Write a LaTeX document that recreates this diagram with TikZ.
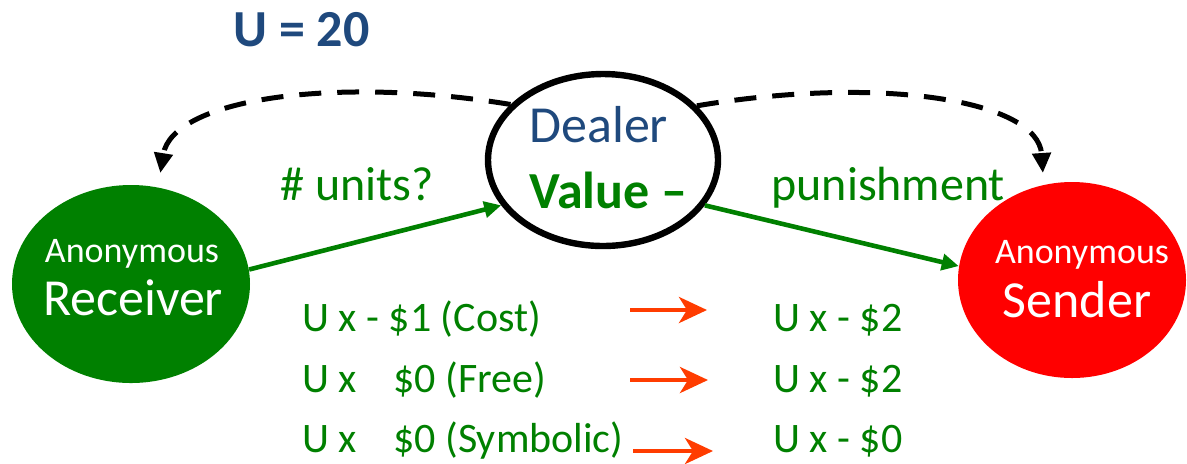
\documentclass[tikz,border=0pt]{standalone}
\usepackage{fontspec}
\setmainfont{Carlito}
\usetikzlibrary{shapes.geometric,arrows.meta}
\definecolor{dgreen}{RGB}{0,128,0}
\definecolor{dblue}{RGB}{31,73,125}
\definecolor{sred}{RGB}{255,0,0}
\definecolor{ored}{RGB}{255,60,0}
\begin{document}
\begin{tikzpicture}[x=0.5pt,y=-0.5pt,
  txt/.style={inner sep=0pt,anchor=base west},
  ctxt/.style={inner sep=0pt,anchor=base},
  party/.style={ellipse,inner sep=0pt,draw=none},
  greenarrow/.style={draw=dgreen,line width=2.3pt,-{Triangle[length=8.5pt,width=8pt]}},
  dasharrow/.style={draw=black,line width=2.5pt,dash pattern=on 11pt off 8pt,-{Triangle[length=10pt,width=9pt]}},
  redarrow/.style={draw=ored,line width=2.2pt,-{Stealth[length=14pt,width=13pt,inset=4pt]}},
  rowtext/.style={txt,text=dgreen,font=\fontsize{21pt}{25pt}\selectfont}]
\useasboundingbox (0,0) rectangle (1187,463);

% parties
\node[party,fill=dgreen,minimum width=119pt,minimum height=99pt] (recv) at (131,284) {};
\node[party,fill=sred,minimum width=114pt,minimum height=98pt] (send) at (1072,280) {};
\node[ellipse,draw=black,line width=3.2pt,fill=white,inner sep=0pt,minimum width=115pt,minimum height=86pt] (dealer) at (603,160) {};

% party texts
\node[ctxt,text=white,font=\fontsize{18pt}{22pt}\selectfont] (recvA) at (132,262) {Anonymous};
\node[ctxt,text=white,font=\fontsize{26pt}{30pt}\selectfont] (recvB) at (133,315) {Receiver};
\node[ctxt,text=white,font=\fontsize{18pt}{22pt}\selectfont] (sendA) at (1082,263) {Anonymous};
\node[ctxt,text=white,font=\fontsize{26pt}{30pt}\selectfont] (sendB) at (1077,317) {Sender};
\node[txt,text=dblue,font=\fontsize{26pt}{30pt}\selectfont] (dealerA) at (529,142) {Dealer};
\node[txt,text=dgreen,font=\fontsize{26pt}{30pt}\selectfont\bfseries] (dealerB) at (529,208) {Value –};

% title
\node[txt,text=dblue,font=\fontsize{26pt}{30pt}\selectfont\bfseries] (utitle) at (233,46) {U = 20};

% labels
\node[txt,text=dgreen,font=\fontsize{24pt}{28pt}\selectfont] (units) at (280,200) {\# units?};
\node[txt,text=dgreen,font=\fontsize{24pt}{28pt}\selectfont] (punish) at (771,200) {punishment};

% green arrows
\draw[greenarrow] (recv.7.8) -- (dealer.204.7);
\draw[greenarrow] (dealer.-24) -- (send.173.5);

% dashed arrows
\draw[dasharrow,shorten >=1pt] (dealer.149.7) .. controls (330,75) and (172,100) .. (160,175);
\draw[dasharrow,shorten >=1pt] (dealer.30) .. controls (880,75) and (1038,100) .. (1043,175);

% rows
\node[rowtext] (r1a) at (302,331) {U x - \$1 (Cost)};
\node[rowtext] (r2a) at (302,392) {U x};
\node[rowtext] (r2b) at (393,392) {\$0 (Free)};
\node[rowtext] (r3a) at (302,452) {U x};
\node[rowtext] (r3b) at (393,452) {\$0 (Symbolic)};
\node[rowtext] (r1c) at (773,331) {U x - \$2};
\node[rowtext] (r2c) at (773,392) {U x - \$2};
\node[rowtext] (r3c) at (773,452) {U x - \$0};

% red arrows
\coordinate (ra1s) at (630,310); \coordinate (ra1e) at (707,310);
\coordinate (ra2s) at (630,380); \coordinate (ra2e) at (708,380);
\coordinate (ra3s) at (633,451); \coordinate (ra3e) at (713,451);
\draw[redarrow] (ra1s) -- (ra1e);
\draw[redarrow] (ra2s) -- (ra2e);
\draw[redarrow] (ra3s) -- (ra3e);
\end{tikzpicture}
\end{document}
